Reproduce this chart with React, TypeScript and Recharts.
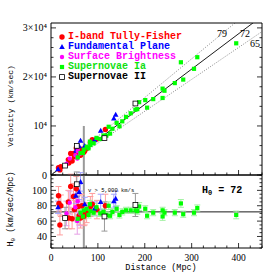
import React from "react";
import { ScatterChart, Scatter, XAxis, YAxis, ErrorBar, ReferenceLine } from "recharts";

// I-band Tully-Fisher (red)
const tfDist = [16, 17, 21, 19, 37, 42, 38, 45, 48, 50, 54, 58, 60, 63, 66, 70, 72, 76, 84, 88, 98, 116];
const tfH0 = [93, 83, 80, 55, 85, 105, 64, 63, 92, 75, 102, 79, 67, 64, 80, 66, 69, 71, 79, 82, 75, 80];
const tfErr = [12, 10, 14, 13, 15, 16, 14, 13, 17, 12, 16, 14, 12, 13, 15, 12, 14, 13, 13, 14, 12, 15];

// Fundamental Plane (blue)
const fpDist = [15, 53, 60, 63, 72, 93, 106, 134, 138];
const fpH0 = [78, 93, 98, 111, 82, 76, 85, 86, 89];
const fpErr = [8, 10, 10, 12, 9, 9, 10, 9, 10];

// Surface Brightness (magenta)
const sbfDist = [33, 40, 52, 56, 57, 62];
const sbfH0 = [70, 84, 78, 60, 86, 70];
const sbfErr = [16, 15, 18, 17, 15, 16];

// Supernovae Ia (green)
const snDist = [57, 63, 68, 70, 76, 80, 83, 84, 91, 97, 105, 112, 118, 123, 126, 131, 140, 146, 152, 160, 170, 180, 184, 188, 201, 205, 218, 238, 238, 242, 264, 277, 282, 305, 312, 395];
const snH0 = [63, 71, 66, 74, 76, 68, 82, 73, 71, 78, 70, 72, 68, 80, 67, 72, 76, 68, 72, 74, 74, 74, 73, 79, 76, 67, 71, 74, 66, 71, 71, 83, 69, 71, 77, 68];
const snErr = [5, 4, 4, 4, 5, 4, 5, 4, 4, 5, 4, 4, 4, 5, 4, 4, 4, 4, 4, 4, 4, 4, 4, 5, 4, 4, 4, 4, 5, 4, 4, 5, 4, 4, 4, 5];

// Supernovae II (open squares)
const sn2Dist = [30, 55, 114, 180];
const sn2H0 = [64, 108, 66, 81];
const sn2Err = [14, 16, 19, 15];

const slopes = [79, 72, 65];
const h0Best = 72;
const cutDist = 70;
const cutVel = 10000;

const xMajor = [0, 100, 200, 300, 400];
const vMajor = [0, 10000, 20000, 30000];
const vLabels = ["0", "10⁴", "2×10⁴", "3×10⁴"];
const hMajor = [40, 60, 80, 100];

const range = (a: number, b: number, s: number) => {
  const out: number[] = [];
  for (let v = a; v <= b; v += s) out.push(v);
  return out;
};
const xTicks = range(0, 450, 25);
const vTicks = range(0, 30000, 2000);
const hTicks = range(25, 120, 5);

const rows = (d: number[], h: number[], e: number[]) =>
  d.map((x, i) => ({ d: x, h0: h[i], err: e[i], v: x * h[i] }));

const tf = rows(tfDist, tfH0, tfErr);
const fp = rows(fpDist, fpH0, fpErr);
const sbf = rows(sbfDist, sbfH0, sbfErr);
const sn = rows(snDist, snH0, snErr);
const sn2 = rows(sn2Dist, sn2H0, sn2Err);

const MONO = '"Liberation Mono", "DejaVu Sans Mono", monospace';
const SERIF = '"Liberation Serif", "DejaVu Serif", serif';

const circle = (fill: string, r: number) => (p: any) => <circle cx={p.cx} cy={p.cy} r={r} fill={fill} />;
const triangle = (fill: string) => (p: any) => (
  <polygon points={`${p.cx},${p.cy - 3} ${p.cx - 2.8},${p.cy + 2} ${p.cx + 2.8},${p.cy + 2}`} fill={fill} />
);
const square = (fill: string) => (p: any) => <rect x={p.cx - 2.1} y={p.cy - 2.1} width={4.2} height={4.2} fill={fill} />;
const openSquare = (p: any) => (
  <rect x={p.cx - 2.4} y={p.cy - 2.4} width={4.8} height={4.8} fill="#fff" stroke="#000" strokeWidth={0.8} />
);

const makeTick = (side: string, majors: number[], labels?: string[]) => (props: any) => {
  const { x, y, payload } = props;
  const val = payload.value;
  const mi = majors.indexOf(val);
  const len = mi >= 0 ? 5 : 2.5;
  let x2 = x;
  let y2 = y;
  if (side === "left") x2 = x + len;
  else if (side === "right") x2 = x - len;
  else if (side === "top") y2 = y + len;
  else y2 = y - len;
  const lab = mi >= 0 && labels ? labels[mi] : null;
  return (
    <g>
      <line x1={x} y1={y} x2={x2} y2={y2} stroke="#000" strokeWidth={0.8} />
      {lab && side === "left" && (
        <text x={x - 4} y={y + 3.5} textAnchor="end" fontSize={10} fontFamily={SERIF} fill="#000">{lab}</text>
      )}
      {lab && side === "bottom" && (
        <text x={x} y={y + 13} textAnchor="middle" fontSize={9.5} fontFamily={SERIF} fill="#000">{lab}</text>
      )}
    </g>
  );
};

const series = [
  { name: "I-band Tully-Fisher", data: tf, color: "#ff0000", err: "#ff9c9c", shape: circle("#ff0000", 2.7) },
  { name: "Fundamental Plane", data: fp, color: "#0000ff", err: "#a0a0ff", shape: triangle("#0000ff") },
  { name: "Surface Brightness", data: sbf, color: "#ff00ff", err: "#e6a0e6", shape: circle("#ff00ff", 2.2) },
  { name: "Supernovae Ia", data: sn, color: "#00ff00", err: "#a0f0a0", shape: square("#00ff00") },
  { name: "Supernovae II", data: sn2, color: "#000000", err: "#999999", shape: openSquare },
];

// axes are 1px thick so recharts still draws them; margins are reduced by 1 to compensate
const axes = (yMajor: number[], yTicks: number[], yDomain: number[], yLabels: string[] | undefined, xLabels: boolean) => [
  <XAxis key="b" xAxisId="b" type="number" dataKey="d" domain={[0, 450]} allowDataOverflow ticks={xTicks} interval={0}
    height={1} tickSize={0} tickMargin={0} tickLine={false} stroke="#000"
    tick={makeTick("bottom", xMajor, xLabels ? xMajor.map(String) : undefined)} />,
  <XAxis key="t" xAxisId="t" orientation="top" type="number" domain={[0, 450]} allowDataOverflow ticks={xTicks} interval={0}
    height={1} tickSize={0} tickMargin={0} tickLine={false} stroke="#000" tick={makeTick("top", xMajor)} />,
  <YAxis key="l" yAxisId="l" type="number" domain={yDomain} allowDataOverflow ticks={yTicks} interval={0}
    width={1} tickSize={0} tickMargin={0} tickLine={false} stroke="#000" tick={makeTick("left", yMajor, yLabels)} />,
  <YAxis key="r" yAxisId="r" orientation="right" type="number" domain={yDomain} allowDataOverflow ticks={yTicks} interval={0}
    width={1} tickSize={0} tickMargin={0} tickLine={false} stroke="#000" tick={makeTick("right", yMajor)} />,
];

export default function App() {
  return (
    <div style={{ position: "absolute", left: 0, top: 0, width: 277, height: 277, background: "#fff" }}>
      <div style={{ position: "absolute", left: 0, top: 0 }}>
        <ScatterChart width={277} height={277} margin={{ top: 22, right: 14, bottom: 101, left: 50 }}>
          {axes(vMajor, vTicks, [0, 31000], vLabels, false)}
          <ReferenceLine xAxisId="b" yAxisId="l" segment={[{ x: cutDist, y: 0 }, { x: cutDist, y: cutVel }]}
            stroke="#999" strokeWidth={2} />
          {slopes.map((s) => (
            <ReferenceLine key={s} xAxisId="b" yAxisId="l" ifOverflow="hidden"
              segment={[{ x: 0, y: 0 }, { x: 450, y: 450 * s }]}
              stroke={s === h0Best ? "#000" : "#555"} strokeWidth={s === h0Best ? 0.9 : 0.7}
              strokeDasharray={s === h0Best ? undefined : "1 1.5"} />
          ))}
          {series.map((s) => (
            <Scatter key={s.name} name={s.name} data={s.data} dataKey="v" xAxisId="b" yAxisId="l"
              shape={s.shape} isAnimationActive={false} />
          ))}
        </ScatterChart>
      </div>
      <div style={{ position: "absolute", left: 0, top: 0 }}>
        <ScatterChart width={277} height={277} margin={{ top: 174, right: 14, bottom: 28, left: 50 }}>
          {axes(hMajor, hTicks, [25, 120], hMajor.map(String), true)}
          <ReferenceLine xAxisId="b" yAxisId="l" x={cutDist} stroke="#999" strokeWidth={2} />
          <ReferenceLine xAxisId="b" yAxisId="l" y={h0Best} stroke="#000" strokeWidth={0.9} />
          {series.map((s) => (
            <Scatter key={s.name} name={s.name} data={s.data} dataKey="h0" xAxisId="b" yAxisId="l"
              shape={s.shape} isAnimationActive={false}>
              <ErrorBar dataKey="err" direction="y" stroke={s.err} width={3} strokeWidth={1} />
            </Scatter>
          ))}
        </ScatterChart>
      </div>
      <div style={{ position: "absolute", left: 57, top: 32, fontFamily: MONO, fontWeight: "bold", fontSize: 10 }}>
        {series.map((s) => (
          <div key={s.name} style={{ display: "flex", alignItems: "center", height: 10, lineHeight: "10px", color: s.color === "#00ff00" ? "#10e010" : s.color }}>
            <svg width={10} height={10} style={{ marginRight: 1 }}>
              {s.shape({ cx: 5, cy: 5 })}
            </svg>
            <span>{s.name}</span>
          </div>
        ))}
      </div>
      <svg width={277} height={277} style={{ position: "absolute", left: 0, top: 0, pointerEvents: "none" }}>
        <text transform="translate(13,106) rotate(-90)" textAnchor="middle" fontFamily={MONO} fontSize={8}>Velocity (km/sec)</text>
        <text transform="translate(13,209) rotate(-90)" textAnchor="middle" fontFamily={MONO} fontSize={8.5}>
          H<tspan dy={2} fontSize={6}>0</tspan><tspan dy={-2}> (km/sec/Mpc)</tspan>
        </text>
        <text x={161} y={270} textAnchor="middle" fontFamily={MONO} fontSize={8.5}>Distance (Mpc)</text>
        <text x={88} y={192} fontFamily={MONO} fontSize={5.5}>v &gt; 5,000 km/s</text>
        <text x={202} y={193} fontFamily={MONO} fontSize={10} fontWeight="bold">
          H<tspan dy={2} fontSize={7}>0</tspan><tspan dy={-2}> = {h0Best}</tspan>
        </text>
        <text x={222} y={37} textAnchor="middle" fontFamily={SERIF} fontSize={10}>{slopes[0]}</text>
        <text x={245} y={37} textAnchor="middle" fontFamily={SERIF} fontSize={10}>{slopes[1]}</text>
        <text x={255} y={47} textAnchor="middle" fontFamily={SERIF} fontSize={10}>{slopes[2]}</text>
      </svg>
    </div>
  );
}
